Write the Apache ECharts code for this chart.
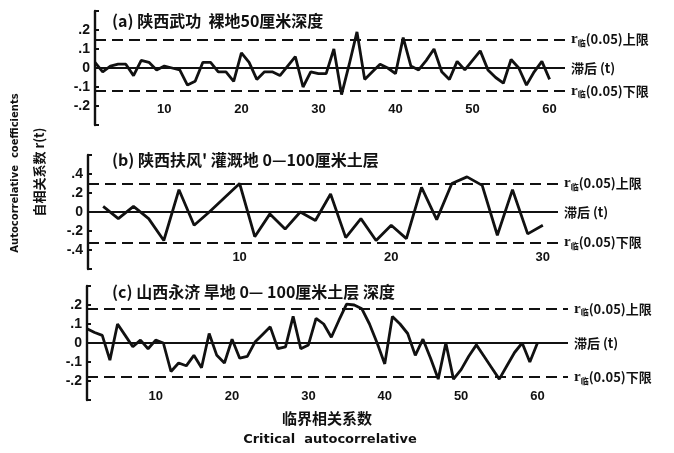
<!DOCTYPE html>
<html style="height: 100%">
<head>
    <meta charset="utf-8">
    <title>自相关系数</title>
</head>
<body style="height: 100%; margin: 0; background: #fff">
<div id="container" style="width: 674px; height: 453px"></div>
<script src="https://cdn.jsdelivr.net/npm/echarts@6/dist/echarts.min.js"></script>
<script type="text/javascript">
    // (a) 陕西武功 裸地50厘米深度, 滞后 1..60
    var valuesA = [0.03, -0.02, 0.01, 0.02, 0.02, -0.04, 0.04, 0.03, -0.01, 0.01,
        0.00, -0.01, -0.09, -0.07, 0.03, 0.03, -0.02, -0.02, -0.07, 0.08,
        0.03, -0.06, -0.02, -0.02, -0.04, 0.01, 0.06, -0.10, -0.02, -0.03,
        -0.03, 0.10, -0.14, 0.02, 0.19, -0.06, -0.02, 0.02, 0.00, -0.03,
        0.16, 0.01, -0.01, 0.04, 0.10, -0.02, -0.06, 0.035, -0.01, 0.04,
        0.09, -0.01, -0.05, -0.08, 0.045, 0.00, -0.09, -0.02, 0.035, -0.06];
    // (b) 陕西扶风 灌溉地0-100厘米土层, 滞后 1..30
    var valuesB = [0.06, -0.07, 0.06, -0.07, -0.30, 0.235, -0.14, 0.00, 0.15, 0.30,
        -0.26, -0.02, -0.18, 0.00, -0.09, 0.19, -0.27, -0.07, -0.30, -0.14,
        -0.28, 0.26, -0.08, 0.30, 0.37, 0.28, -0.245, 0.235, -0.23, -0.14];
    // (c) 山西永济 旱地0-100厘米土层, 滞后 1..60
    var valuesC = [0.075, 0.055, 0.04, -0.09, 0.10, 0.04, -0.02, 0.015, -0.03, 0.015,
        0.00, -0.15, -0.105, -0.12, -0.065, -0.13, 0.05, -0.065, -0.105, 0.02,
        -0.08, -0.07, 0.005, 0.045, 0.085, -0.03, -0.02, 0.14, -0.03, -0.01,
        0.13, 0.10, 0.03, 0.12, 0.205, 0.20, 0.18, 0.10, 0.00, -0.11,
        0.14, 0.10, 0.05, -0.065, 0.02, -0.08, -0.19, 0.00, -0.19, -0.14,
        -0.07, -0.01, -0.07, -0.13, -0.19, -0.12, -0.05, 0.00, -0.10, 0.00];

    var limitsA = [0.15, -0.12];
    var limitsB = [0.30, -0.32];
    var limitsC = [0.18, -0.18];

    var titles = ['(a) 陕西武功  裸地50厘米深度',
        '(b) 陕西扶风\' 灌溉地 0—100厘米土层',
        '(c) 山西永济 旱地 0— 100厘米土层 深度'];
    var xTicksA = [10, 20, 30, 40, 50, 60];
    var xTicksB = [10, 20, 30];
    var xTicksC = [10, 20, 30, 40, 50, 60];

    var FONT = '"Noto Sans CJK SC", "Liberation Sans", sans-serif';
    var INK = '#111';

    var dom = document.getElementById('container');
    var myChart = echarts.init(dom);

    function toPairs(vals) {
        return vals.map(function (v, i) { return [i + 1, v]; });
    }

    function yFmt(limit) {
        return function (v) {
            if (Math.abs(v) > limit + 1e-6) return '';
            if (Math.abs(v) < 1e-6) return '0';
            var s = Math.abs(v).toFixed(1).replace(/^0/, '');
            return (v < 0 ? '-' : '') + s;
        };
    }

    var labelRich = {
        r: {fontSize: 15, fontWeight: 'bold', color: INK, fontFamily: 'Liberation Serif'},
        s: {fontSize: 8, fontWeight: 'bold', color: INK, padding: [7, 0, 0, 0]},
        t: {fontSize: 13, fontWeight: 'bold', color: INK}
    };

    function markLines(lim) {
        return {
            silent: true,
            symbol: ['none', 'none'],
            animation: false,
            label: {show: true, position: 'end', distance: 6, fontFamily: FONT, rich: labelRich},
            data: [
                {yAxis: lim[0], lineStyle: {type: [11, 6], width: 2.2, color: INK},
                    label: {formatter: '{r|r}{s|临}{t|(0.05)上限}'}},
                {yAxis: 0, lineStyle: {type: 'solid', width: 1.8, color: INK},
                    label: {formatter: '{t|滞后 (t)}'}},
                {yAxis: lim[1], lineStyle: {type: [11, 6], width: 2.2, color: INK},
                    label: {formatter: '{r|r}{s|临}{t|(0.05)下限}'}}
            ]
        };
    }

    var grids = [
        {left: 95, top: 11, width: 470, height: 114},
        {left: 88, top: 155, width: 470, height: 114},
        {left: 87, top: 286, width: 481, height: 114}
    ];

    var xAxes = [
        {gridIndex: 0, min: 1, max: 62, ticks: xTicksA, offset: -26},
        {gridIndex: 1, min: 0, max: 31, ticks: xTicksB, offset: -22},
        {gridIndex: 2, min: 1, max: 64, ticks: xTicksC, offset: -14}
    ].map(function (a) {
        return {
            type: 'value', gridIndex: a.gridIndex, min: a.min, max: a.max,
            position: 'bottom', offset: a.offset,
            axisLine: {show: false}, axisTick: {show: false}, splitLine: {show: false},
            axisLabel: {customValues: a.ticks, color: INK, fontSize: 13, fontWeight: 'bold',
                fontFamily: 'Liberation Sans', margin: 4}
        };
    });

    var yAxes = [
        {gridIndex: 0, min: -0.3, max: 0.3, interval: 0.1, lim: 0.2},
        {gridIndex: 1, min: -0.6, max: 0.6, interval: 0.2, lim: 0.4},
        {gridIndex: 2, min: -0.3, max: 0.3, interval: 0.1, lim: 0.2}
    ].map(function (a) {
        return {
            type: 'value', gridIndex: a.gridIndex, min: a.min, max: a.max, interval: a.interval,
            axisLine: {show: true, lineStyle: {color: INK, width: 2.4}},
            axisTick: {show: true, inside: true, length: 4, lineStyle: {color: INK, width: 2}},
            splitLine: {show: false},
            axisLabel: {formatter: yFmt(a.lim), color: INK, fontSize: 14, fontWeight: 'bold',
                fontFamily: 'Liberation Sans', margin: 5}
        };
    });

    var series = [
        [valuesA, limitsA],
        [valuesB, limitsB],
        [valuesC, limitsC]
    ].map(function (item, i) {
        return {
            type: 'line', xAxisIndex: i, yAxisIndex: i,
            data: toPairs(item[0]),
            showSymbol: false,
            lineStyle: {color: INK, width: 2.8},
            z: 3,
            markLine: markLines(item[1])
        };
    });

    var titleTops = [8, 147, 279];
    var titleLefts = [107, 107, 107];

    var option = {
        backgroundColor: '#fff',
        animation: false,
        title: titles.map(function (t, i) {
            return {
                text: t, left: titleLefts[i], top: titleTops[i],
                textStyle: {fontFamily: FONT, fontSize: 16, fontWeight: 'bold', color: INK}
            };
        }),
        grid: grids,
        xAxis: xAxes,
        yAxis: yAxes,
        series: series,
        graphic: [
            {type: 'text', x: 15, y: 173, rotation: Math.PI / 2,
                style: {text: 'Autocorrelative  coefficients', fill: INK, fontSize: 10, fontWeight: 'bold',
                    fontFamily: 'DejaVu Sans', align: 'center', verticalAlign: 'middle'}},
            {type: 'text', x: 39, y: 172, rotation: Math.PI / 2,
                style: {text: '自相关系数 r(t)', fill: INK, fontSize: 13, fontWeight: 'bold',
                    fontFamily: 'Noto Sans CJK SC', align: 'center', verticalAlign: 'middle'}},
            {type: 'text', x: 327, y: 418,
                style: {text: '临界相关系数', fill: INK, fontSize: 15, fontWeight: 'bold',
                    fontFamily: 'Noto Sans CJK SC', align: 'center', verticalAlign: 'middle'}},
            {type: 'text', x: 330, y: 440,
                style: {text: 'Critical  autocorrelative', fill: INK, fontSize: 13, fontWeight: 'bold',
                    fontFamily: 'DejaVu Sans', align: 'center', verticalAlign: 'middle'}}
        ]
    };
    myChart.setOption(option);
</script>
</body>
</html>
